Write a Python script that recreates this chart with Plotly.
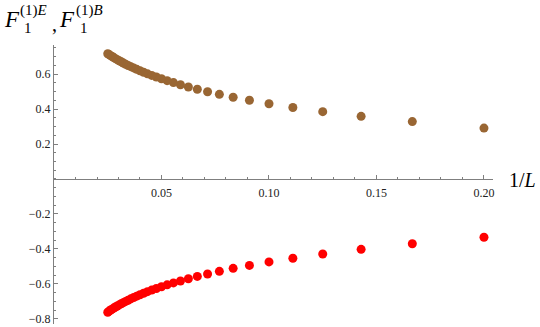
import plotly.graph_objects as go

# system sizes L = 5..40, plotted against 1/L
L_vals = list(range(5, 41))

# F_1^(1)E (brown), L = 5..40
f_e = [0.291, 0.328, 0.358, 0.385, 0.409, 0.430, 0.450, 0.467, 0.484, 0.499,
       0.513, 0.526, 0.539, 0.551, 0.562, 0.573, 0.583, 0.592, 0.601, 0.610,
       0.619, 0.627, 0.635, 0.642, 0.649, 0.656, 0.663, 0.670, 0.676, 0.682,
       0.688, 0.694, 0.700, 0.705, 0.711, 0.716]

# F_1^(1)B (red), L = 5..40
f_b = [-0.333, -0.370, -0.402, -0.429, -0.453, -0.474, -0.494, -0.511, -0.528, -0.543,
       -0.557, -0.570, -0.583, -0.594, -0.605, -0.616, -0.626, -0.635, -0.644, -0.653,
       -0.662, -0.670, -0.678, -0.685, -0.693, -0.700, -0.707, -0.713, -0.720, -0.726,
       -0.732, -0.738, -0.744, -0.749, -0.755, -0.762]

x_ticks = [0.05, 0.10, 0.15, 0.20]
y_ticks = [-0.8, -0.6, -0.4, -0.2, 0.2, 0.4, 0.6]

inv_L = [1.0 / n for n in L_vals]

W, H = 540, 327
ML, MR, MT, MB = 54, 47, 45, 3
YMIN, YMAX = -0.829, 0.766
SERIF = "Liberation Serif"

def px(x, y):
    # pixel position -> paper coordinates
    return (x - ML) / (W - ML - MR), (H - MB - y) / (H - MT - MB)

fig = go.Figure()
fig.add_trace(go.Scatter(x=inv_L, y=f_e, mode="markers",
                         marker=dict(color="#996633", size=9), showlegend=False))
fig.add_trace(go.Scatter(x=inv_L, y=f_b, mode="markers",
                         marker=dict(color="#ff0000", size=9), showlegend=False))

axis_col = "#7f7f7f"
fig.update_xaxes(
    range=[0, 0.2042], anchor="free", position=(0 - YMIN) / (YMAX - YMIN),
    automargin=False,
    showline=True, linecolor=axis_col, linewidth=1, showgrid=False, zeroline=False,
    tickvals=x_ticks, tickformat=".2f", ticks="inside", ticklen=4, tickcolor=axis_col,
    ticklabelstandoff=3,
    minor=dict(dtick=0.01, tick0=0, ticks="inside", ticklen=2, tickcolor=axis_col),
    tickfont=dict(family=SERIF, size=12, color="#222"),
)
fig.update_yaxes(
    range=[YMIN, YMAX], automargin=False,
    showline=True, linecolor=axis_col, linewidth=1,
    showgrid=False, zeroline=False,
    tickvals=y_ticks, tickformat=".1f", ticks="inside", ticklen=4, tickcolor=axis_col,
    minor=dict(dtick=0.05, tick0=0, ticks="inside", ticklen=2, tickcolor=axis_col),
    tickfont=dict(family=SERIF, size=12, color="#222"),
)

# axis labels, built from pieces so sub/superscripts stack
pieces = [
    ("<i>F</i>", 2, 19, 23),
    ("(1)<i>E</i>", 18, 10, 15),
    ("1", 22, 28, 15),
    (",", 50, 24, 20),
    ("<i>F</i>", 57, 19, 23),
    ("(1)<i>B</i>", 74, 10, 15),
    ("1", 78, 28, 15),
    ("1/<i>L</i>", 507, 180, 20),
]
for text, x, y, size in pieces:
    xp, yp = px(x, y)
    fig.add_annotation(text=text, x=xp, y=yp, xref="paper", yref="paper",
                       xanchor="left", yanchor="middle", showarrow=False,
                       font=dict(family=SERIF, size=size, color="black"))

fig.update_layout(
    width=W, height=H, margin=dict(l=ML, r=MR, t=MT, b=MB, autoexpand=False),
    plot_bgcolor="white", paper_bgcolor="white",
)

# drop the default page margin so the figure sits at the window's corner
fig.write_html("out.html", config={"displayModeBar": False},
               post_script="document.body.style.margin='0';")
